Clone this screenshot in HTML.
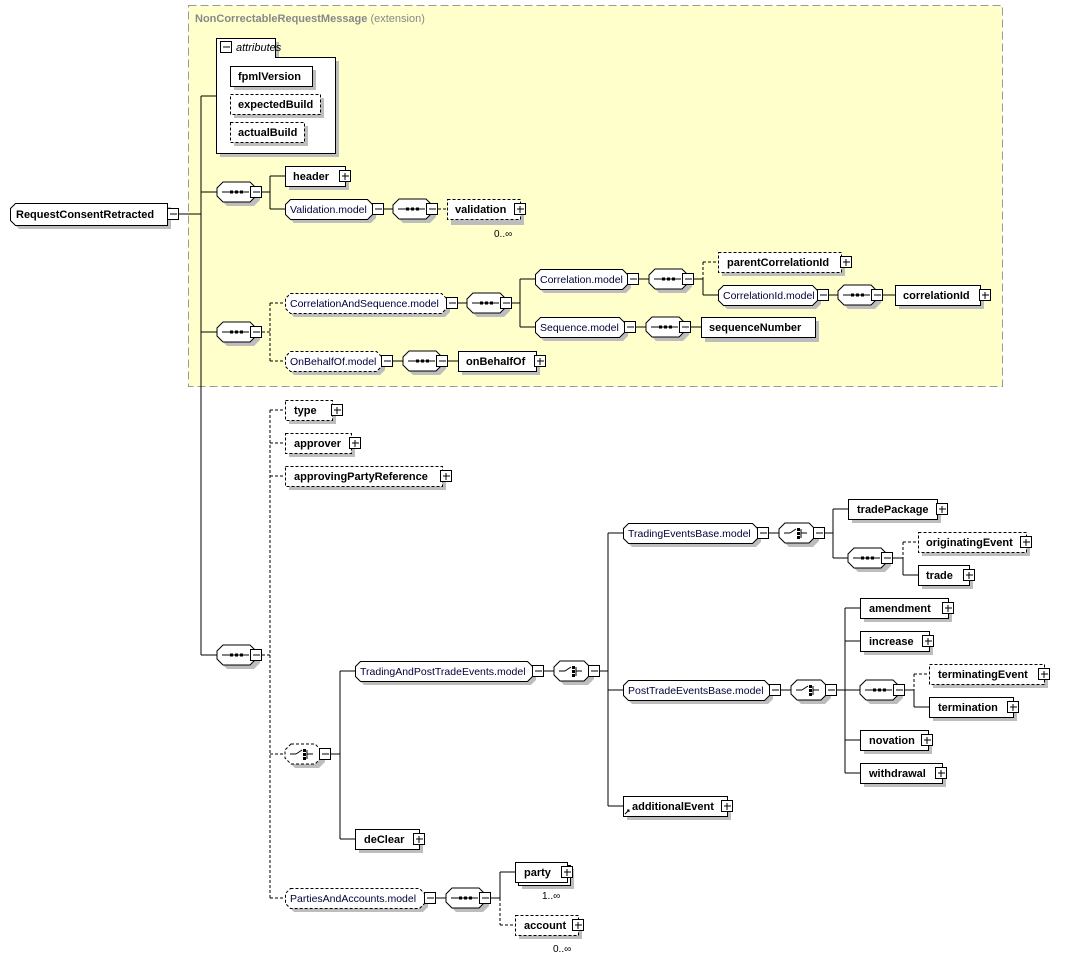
<!DOCTYPE html>
<html><head><meta charset="utf-8"><style>
html,body{margin:0;padding:0;background:#fff;}
svg{display:block;font-family:"Liberation Sans",Arial,sans-serif;}
.l{stroke:#000;stroke-width:1;fill:none;}
.d{stroke:#000;stroke-width:1;fill:none;stroke-dasharray:3,2;}
.sh{fill:#bdbdbd;stroke:none;}
.b{fill:#fff;stroke:#000;stroke-width:1;}
.bd{fill:#fff;stroke:#000;stroke-width:1;stroke-dasharray:3,2;}
.e{font-size:11px;font-weight:bold;fill:#000;}
.m{font-size:10.5px;fill:#00003a;}
.o{font-size:10px;fill:#000;}
</style></head><body>
<svg width="1072" height="961" viewBox="0 0 1072 961" xmlns="http://www.w3.org/2000/svg">
<defs>
<g id="mi"><rect x="0.5" y="-5.5" width="11" height="11" fill="#fff" stroke="#000"/><line x1="3" y1="0" x2="10" y2="0" stroke="#000"/></g>
<g id="pl"><rect x="0.5" y="-5.5" width="11" height="11" fill="#fff" stroke="#000"/><line x1="3" y1="0" x2="10" y2="0" stroke="#000"/><line x1="6" y1="-3" x2="6" y2="4" stroke="#000"/></g>
<g id="sq">
<polygon class="sh" transform="translate(4,4)" points="6,-10 33,-10 39,-4 39,4 33,10 6,10 0,4 0,-4"/>
<polygon class="b" points="6,-10 33,-10 39,-4 39,4 33,10 6,10 0,4 0,-4"/>
<line x1="5" y1="0" x2="32" y2="0" stroke="#000"/><rect x="13" y="-1.5" width="3" height="3"/><rect x="18" y="-1.5" width="3" height="3"/><rect x="23" y="-1.5" width="3" height="3"/>
<use href="#mi" x="33"/></g>
<g id="chs">
<line x1="5" y1="0" x2="11" y2="0" stroke="#000"/><line x1="11" y1="0" x2="17" y2="-4" stroke="#000"/><rect x="18" y="-5" width="3" height="3"/><rect x="18" y="-1" width="3" height="3"/><rect x="18" y="3" width="3" height="3"/><line x1="22" y1="-4" x2="22" y2="5" stroke="#000"/><line x1="22" y1="0" x2="28" y2="0" stroke="#000"/></g>
<g id="ch">
<polygon class="sh" transform="translate(4,4)" points="6,-10 30,-10 36,-4 36,4 30,10 6,10 0,4 0,-4"/>
<polygon class="b" points="6,-10 30,-10 36,-4 36,4 30,10 6,10 0,4 0,-4"/>
<use href="#chs"/><use href="#mi" x="34"/></g>
<g id="chd">
<polygon class="sh" transform="translate(4,4)" points="6,-10 30,-10 36,-4 36,4 30,10 6,10 0,4 0,-4"/>
<polygon class="bd" points="6,-10 30,-10 36,-4 36,4 30,10 6,10 0,4 0,-4"/>
<use href="#chs"/><use href="#mi" x="34"/></g>
</defs>

<!-- yellow region -->
<rect x="188.5" y="5.5" width="814" height="381" fill="#ffffcc" stroke="#999" stroke-dasharray="8,4"/>
<text x="195" y="22" font-size="11" fill="#888"><tspan font-weight="bold">NonCorrectableRequestMessage</tspan> (extension)</text>

<!-- connectors -->
<g class="l">
<path d="M178 214H201M201 96V655M201 96H216M201 192H217M201 332H217M201 655H217"/>
<path d="M262 192H270M270 176V209M270 176H285M270 209H285M384 209H393"/>
<path d="M458 303H467M512 303H520M520 279V327M520 279H535M520 327H535"/>
<path d="M639 279H649M694 279H703M703 279V295M703 295H718M829 295H838M883 295H895"/>
<path d="M636 327H646M691 327H701M393 361H403M448 361H458"/>
<path d="M330 754H340M340 671V839M340 671H355M340 839H355"/>
<path d="M544 671H554M600 671H608M608 533V806M608 533H623M608 690H623M608 806H623"/>
<path d="M769 533H779M825 533H833M833 509V558M833 509H848M833 558H848M893 558H903M903 558V575M903 575H918"/>
<path d="M781 690H791M837 690H845M845 608V773M845 608H860M845 641H860M845 690H860M845 740H860M845 773H860M905 690H914M914 690V707M914 707H929"/>
<path d="M436 898H446M491 898H500M500 872V898M500 872H515"/>
</g>
<g class="d">
<path d="M438 209H447M262 332H270M270 303V361M270 303H285M270 361H285M703 262V279M703 262H718"/>
<path d="M262 655H270M270 410V898M270 410H285M270 443H285M270 476H285M270 754H285M270 898H285"/>
<path d="M903 542V558M903 542H918M914 674V690M914 674H929M500 898V925M500 925H515"/>
</g>

<!-- attributes -->
<path d="M220 157V42H279V61H339V157Z" class="sh"/>
<path d="M216.5 153.5V38.5H275.5V57.5H335.5V153.5Z" fill="#fff" stroke="#000"/>
<use href="#mi" x="220" y="47"/>
<text x="236" y="51" font-size="11" font-style="italic">attributes</text>
<rect x="234" y="70" width="82" height="20" class="sh"/><rect x="230.5" y="66.5" width="82" height="20" class="b"/><text x="238" y="80" class="e">fpmlVersion</text>
<rect x="234" y="98" width="90" height="20" class="sh"/><rect x="230.5" y="94.5" width="90" height="20" class="bd"/><text x="238" y="108" class="e">expectedBuild</text>
<rect x="234" y="126" width="74" height="20" class="sh"/><rect x="230.5" y="122.5" width="74" height="20" class="bd"/><text x="238" y="136" class="e">actualBuild</text>

<!-- root -->
<polygon class="sh" transform="translate(4,4)" points="15,203 167,203 167,225 15,225 10,220 10,208"/>
<polygon class="b" points="15.5,203.5 167.5,203.5 167.5,225.5 15.5,225.5 10.5,220.5 10.5,208.5"/>
<text x="16" y="218" class="e">RequestConsentRetracted</text>
<use href="#mi" x="167" y="214"/>

<!-- sequences/choices -->
<use href="#sq" x="217" y="192"/><use href="#sq" x="393" y="209"/><use href="#sq" x="217" y="332"/>
<use href="#sq" x="467" y="303"/><use href="#sq" x="649" y="279"/><use href="#sq" x="838" y="295"/>
<use href="#sq" x="646" y="327"/><use href="#sq" x="403" y="361"/><use href="#sq" x="217" y="655"/>
<use href="#sq" x="848" y="558"/><use href="#sq" x="860" y="690"/><use href="#sq" x="446" y="898"/>
<use href="#chd" x="285" y="754"/><use href="#ch" x="554" y="671"/><use href="#ch" x="779" y="533"/><use href="#ch" x="791" y="690"/>

<!-- models -->
<g>
<polygon class="sh" transform="translate(4,4)" points="290,199 367,199 372,204 372,214 367,219 290,219 285,214 285,204"/>
<polygon class="b" points="290.5,199.5 367.5,199.5 372.5,204.5 372.5,214.5 367.5,219.5 290.5,219.5 285.5,214.5 285.5,204.5"/>
<text x="290" y="213" class="m">Validation.model</text><use href="#mi" x="372" y="209"/>

<polygon class="sh" transform="translate(4,4)" points="290,293 441,293 446,298 446,308 441,313 290,313 285,308 285,298"/>
<polygon class="bd" points="290.5,293.5 441.5,293.5 446.5,298.5 446.5,308.5 441.5,313.5 290.5,313.5 285.5,308.5 285.5,298.5"/>
<text x="290" y="307" class="m">CorrelationAndSequence.model</text><use href="#mi" x="446" y="303"/>

<polygon class="sh" transform="translate(4,4)" points="540,269 622,269 627,274 627,284 622,289 540,289 535,284 535,274"/>
<polygon class="b" points="540.5,269.5 622.5,269.5 627.5,274.5 627.5,284.5 622.5,289.5 540.5,289.5 535.5,284.5 535.5,274.5"/>
<text x="540" y="283" class="m">Correlation.model</text><use href="#mi" x="627" y="279"/>

<polygon class="sh" transform="translate(4,4)" points="723,285 812,285 817,290 817,300 812,305 723,305 718,300 718,290"/>
<polygon class="b" points="723.5,285.5 812.5,285.5 817.5,290.5 817.5,300.5 812.5,305.5 723.5,305.5 718.5,300.5 718.5,290.5"/>
<text x="723" y="299" class="m">CorrelationId.model</text><use href="#mi" x="817" y="295"/>

<polygon class="sh" transform="translate(4,4)" points="540,317 619,317 624,322 624,332 619,337 540,337 535,332 535,322"/>
<polygon class="b" points="540.5,317.5 619.5,317.5 624.5,322.5 624.5,332.5 619.5,337.5 540.5,337.5 535.5,332.5 535.5,322.5"/>
<text x="540" y="331" class="m">Sequence.model</text><use href="#mi" x="624" y="327"/>

<polygon class="sh" transform="translate(4,4)" points="290,351 376,351 381,356 381,366 376,371 290,371 285,366 285,356"/>
<polygon class="bd" points="290.5,351.5 376.5,351.5 381.5,356.5 381.5,366.5 376.5,371.5 290.5,371.5 285.5,366.5 285.5,356.5"/>
<text x="290" y="365" class="m">OnBehalfOf.model</text><use href="#mi" x="381" y="361"/>

<polygon class="sh" transform="translate(4,4)" points="360,661 527,661 532,666 532,676 527,681 360,681 355,676 355,666"/>
<polygon class="b" points="360.5,661.5 527.5,661.5 532.5,666.5 532.5,676.5 527.5,681.5 360.5,681.5 355.5,676.5 355.5,666.5"/>
<text x="360" y="675" class="m">TradingAndPostTradeEvents.model</text><use href="#mi" x="532" y="671"/>

<polygon class="sh" transform="translate(4,4)" points="628,523 752,523 757,528 757,538 752,543 628,543 623,538 623,528"/>
<polygon class="b" points="628.5,523.5 752.5,523.5 757.5,528.5 757.5,538.5 752.5,543.5 628.5,543.5 623.5,538.5 623.5,528.5"/>
<text x="628" y="537" class="m">TradingEventsBase.model</text><use href="#mi" x="757" y="533"/>

<polygon class="sh" transform="translate(4,4)" points="628,680 764,680 769,685 769,695 764,700 628,700 623,695 623,685"/>
<polygon class="b" points="628.5,680.5 764.5,680.5 769.5,685.5 769.5,695.5 764.5,700.5 628.5,700.5 623.5,695.5 623.5,685.5"/>
<text x="628" y="694" class="m">PostTradeEventsBase.model</text><use href="#mi" x="769" y="690"/>

<polygon class="sh" transform="translate(4,4)" points="290,888 419,888 424,893 424,903 419,908 290,908 285,903 285,893"/>
<polygon class="bd" points="290.5,888.5 419.5,888.5 424.5,893.5 424.5,903.5 419.5,908.5 290.5,908.5 285.5,903.5 285.5,893.5"/>
<text x="290" y="902" class="m">PartiesAndAccounts.model</text><use href="#mi" x="424" y="898"/>
</g>

<!-- elements -->
<g>
<rect x="289" y="170" width="60" height="20" class="sh"/><rect x="285.5" y="166.5" width="60" height="20" class="b"/><text x="293" y="180" class="e">header</text><use href="#pl" x="339" y="176"/>
<rect x="451" y="203" width="73" height="22" class="sh"/><rect x="447.5" y="199.5" width="73" height="20" class="bd"/><text x="455" y="213" class="e">validation</text><use href="#pl" x="514" y="209"/><text x="494" y="237" class="o">0..∞</text>
<rect x="722" y="256" width="123" height="20" class="sh"/><rect x="718.5" y="252.5" width="123" height="20" class="bd"/><text x="727" y="266" class="e">parentCorrelationId</text><use href="#pl" x="840" y="262"/>
<rect x="899" y="289" width="85" height="20" class="sh"/><rect x="895.5" y="285.5" width="85" height="20" class="b"/><text x="903" y="299" class="e">correlationId</text><use href="#pl" x="979" y="295"/>
<rect x="705" y="321" width="114" height="21" class="sh"/><rect x="701.5" y="317.5" width="114" height="20" class="b"/><text x="709" y="331" class="e">sequenceNumber</text>
<rect x="462" y="355" width="78" height="20" class="sh"/><rect x="458.5" y="351.5" width="78" height="20" class="b"/><text x="466" y="365" class="e">onBehalfOf</text><use href="#pl" x="534" y="361"/>
<rect x="289" y="404" width="47" height="20" class="sh"/><rect x="285.5" y="400.5" width="47" height="20" class="bd"/><text x="294" y="414" class="e">type</text><use href="#pl" x="331" y="410"/>
<rect x="289" y="437" width="66" height="20" class="sh"/><rect x="285.5" y="433.5" width="66" height="20" class="bd"/><text x="294" y="447" class="e">approver</text><use href="#pl" x="349" y="443"/>
<rect x="289" y="470" width="157" height="20" class="sh"/><rect x="285.5" y="466.5" width="157" height="20" class="bd"/><text x="294" y="480" class="e">approvingPartyReference</text><use href="#pl" x="440" y="476"/>
<rect x="852" y="503" width="89" height="20" class="sh"/><rect x="848.5" y="499.5" width="89" height="20" class="b"/><text x="857" y="513" class="e">tradePackage</text><use href="#pl" x="936" y="509"/>
<rect x="922" y="536" width="108" height="20" class="sh"/><rect x="918.5" y="532.5" width="108" height="20" class="bd"/><text x="926" y="546" class="e">originatingEvent</text><use href="#pl" x="1020" y="542"/>
<rect x="922" y="569" width="51" height="20" class="sh"/><rect x="918.5" y="565.5" width="51" height="20" class="b"/><text x="926" y="579" class="e">trade</text><use href="#pl" x="963" y="575"/>
<rect x="864" y="602" width="88" height="20" class="sh"/><rect x="860.5" y="598.5" width="88" height="20" class="b"/><text x="869" y="612" class="e">amendment</text><use href="#pl" x="942" y="608"/>
<rect x="864" y="635" width="69" height="20" class="sh"/><rect x="860.5" y="631.5" width="69" height="20" class="b"/><text x="869" y="645" class="e">increase</text><use href="#pl" x="922" y="641"/>
<rect x="933" y="668" width="115" height="20" class="sh"/><rect x="929.5" y="664.5" width="115" height="20" class="bd"/><text x="938" y="678" class="e">terminatingEvent</text><use href="#pl" x="1038" y="674"/>
<rect x="933" y="701" width="84" height="20" class="sh"/><rect x="929.5" y="697.5" width="84" height="20" class="b"/><text x="938" y="711" class="e">termination</text><use href="#pl" x="1007" y="707"/>
<rect x="864" y="734" width="68" height="20" class="sh"/><rect x="860.5" y="730.5" width="68" height="20" class="b"/><text x="869" y="744" class="e">novation</text><use href="#pl" x="921" y="740"/>
<rect x="864" y="767" width="82" height="20" class="sh"/><rect x="860.5" y="763.5" width="82" height="20" class="b"/><text x="869" y="777" class="e">withdrawal</text><use href="#pl" x="935" y="773"/>
<rect x="627" y="800" width="104" height="20" class="sh"/><rect x="623.5" y="796.5" width="104" height="20" class="b"/><text x="632" y="810" class="e">additionalEvent</text><use href="#pl" x="721" y="806"/>
<path d="M625 814L629 810M627 810H629V812" stroke="#000" fill="none"/>
<rect x="359" y="833" width="64" height="20" class="sh"/><rect x="355.5" y="829.5" width="64" height="20" class="b"/><text x="364" y="843" class="e">deClear</text><use href="#pl" x="413" y="839"/>
<rect x="522" y="869" width="52" height="20" class="sh"/><rect x="518.5" y="865.5" width="52" height="20" class="b"/><rect x="515.5" y="862.5" width="52" height="20" class="b"/><text x="524" y="876" class="e">party</text><use href="#pl" x="561" y="872"/><text x="542" y="899" class="o" fill="#600060">1..∞</text>
<rect x="519" y="919" width="63" height="20" class="sh"/><rect x="515.5" y="915.5" width="63" height="20" class="bd"/><text x="524" y="929" class="e">account</text><use href="#pl" x="572" y="925"/><text x="553" y="952" class="o">0..∞</text>
</g>
</svg>
</body></html>
